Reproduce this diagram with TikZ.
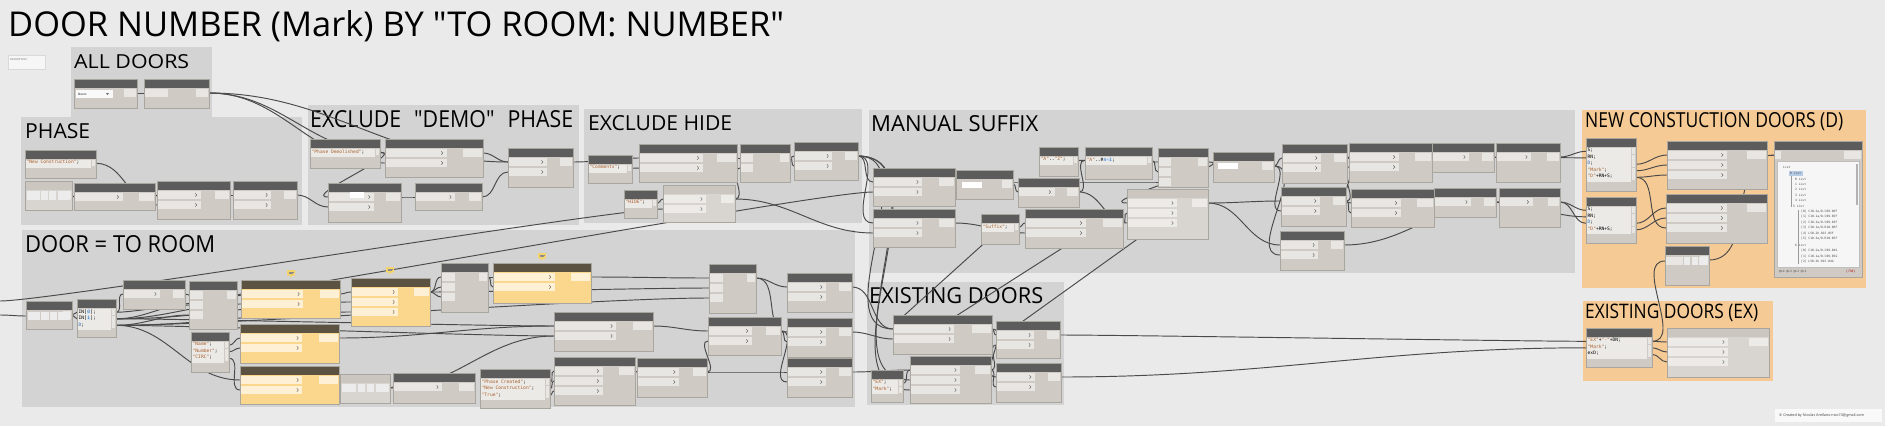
\documentclass[tikz,border=0pt]{standalone}
\usepackage{fontspec}
\setmainfont{Open Sans}[Ligatures=TeXOff]
\newfontfamily\cfont{DejaVu Sans Mono}[Ligatures=TeXOff]
\usepackage{graphicx}
\pgfdeclarelayer{grp}
\pgfdeclarelayer{wires}
\pgfsetlayers{grp,wires,main}
\definecolor{bgc}{HTML}{EAEAEA}
\definecolor{grpc}{HTML}{D3D3D3}
\definecolor{orgc}{HTML}{F6CA95}
\definecolor{bodyg}{HTML}{CFCBC4}
\definecolor{headg}{HTML}{5C5C5C}
\definecolor{rowg}{HTML}{E7E6E2}
\definecolor{bodyy}{HTML}{FBD78E}
\definecolor{heady}{HTML}{5C5242}
\definecolor{rowy}{HTML}{FEF0D4}
\definecolor{bodyl}{HTML}{D8D5D0}
\definecolor{headl}{HTML}{CBC7C0}
\definecolor{rowl}{HTML}{ECEBE8}
\definecolor{edgec}{HTML}{A9A59F}
\definecolor{wirec}{HTML}{4A4A4A}
\definecolor{strc}{HTML}{A85F2C}
\definecolor{varc}{HTML}{2F6DB5}
\definecolor{codebg}{HTML}{ECEAE6}
\definecolor{notec}{HTML}{F3D36A}
\newcommand{\cstr}[1]{\textcolor{strc}{#1}}
\newcommand{\cvar}[1]{\textcolor{varc}{#1}}
\newcommand{\cidx}[1]{{\setlength{\fboxsep}{0.3pt}\colorbox{varc!20}{\textcolor{varc}{#1}}}}
% node: name x1 y1 x2 y2 nin kind rowfrac
\newcommand{\dnode}[8]{%
  \fill[fill=body#7] (#2,#3) rectangle (#4,#5);
  \fill[fill=head#7] (#2,#3) rectangle (#4,#3+9);
  \pgfmathsetmacro{\rw}{#2+#8*(#4-#2)}%
  \pgfmathsetmacro{\ow}{#4-0.2*(#4-#2)}%
  \ifnum#6>0
  \foreach \k in {1,...,#6}{%
    \fill[fill=row#7] (#2+0.6,#3+10*\k) rectangle (\rw,#3+10*\k+8);
    \ifdim#8pt>0.4pt \draw[chev] (\rw-5.5,#3+10*\k+2.3) -- (\rw-4,#3+10*\k+4) -- (\rw-5.5,#3+10*\k+5.7);\fi
    \coordinate (#1-i\k) at (#2,#3+10*\k+4);
  }%
  \fi
  \fill[fill=row#7] (\ow,#3+10) rectangle (#4-0.6,#3+18);
  \coordinate (#1-o1) at (#4,#3+14);
  \draw[edgec,line width=0.4pt] (#2,#3) rectangle (#4,#5);
}
% code block: name x1 y1 x2 y2 nlines text
\newcommand{\dcode}[7]{%
  \fill[fill=bodyg] (#2,#3) rectangle (#4,#5);
  \fill[fill=headg] (#2,#3) rectangle (#4,#3+9);
  \fill[fill=codebg] (#2+0.6,#3+10) rectangle (#4-5,{#3+11+6.5*#6});
  \foreach \k in {1,...,#6}{%
    \fill[fill=rowg] (#4-4.4,{#3+10.2+6.5*(\k-1)}) rectangle (#4-0.6,{#3+16+6.5*(\k-1)});
    \coordinate (#1-o\k) at (#4,{#3+13.3+6.5*(\k-1)});
    \coordinate (#1-i\k) at (#2,{#3+13.3+6.5*(\k-1)});
  }%
  \node[codetext] (#1-t) at (#2+1.5,#3+10.3) {#7};
  \draw[edgec,line width=0.4pt] (#2,#3) rectangle (#4,#5);
}
\newcommand{\dgroup}[6]{\fill[fill=#6] (#2,#3) rectangle (#4,#5); \coordinate (#1) at (#2,#3);}
\newcommand{\dlabel}[6]{\node[anchor=base west,inner sep=0pt] (#1) at (#2,#3) {\resizebox{#4pt}{#5pt}{#6}};}
\newcommand{\dwire}[2]{\draw[wire] (#1) to[out=0,in=180] (#2);}
\newcommand{\dwirel}[3]{\draw[wire] (#1) to[out=0,in=180,looseness=#3] (#2);}
\newcommand{\wline}[4]{\node[wt] (#1) at (#2,#3) {#4};}
\newcommand{\dnote}[3]{%
  \fill[notec,rounded corners=0.6pt] (#2-4,#3-3) rectangle (#2+4,#3+2.5);
  \fill[notec] (#2-1.5,#3+2.4) -- (#2,#3+4.5) -- (#2+1.5,#3+2.4) -- cycle;
  \draw[black!45,line width=0.3pt] (#2-2.5,#3-1.2) -- (#2+2.5,#3-1.2) (#2-2.5,#3+0.6) -- (#2+1.5,#3+0.6);
  \coordinate (#1) at (#2,#3);
}
\newcommand{\dcell}[4]{\fill[white!85!gray] (#1,#2) rectangle (#3,#4);}
\begin{document}
\begin{tikzpicture}[x=1pt,y=-1pt,
  wire/.style={draw=wirec,line width=0.95pt},
  chev/.style={draw=black!70,line width=0.35pt},
  codetext/.style={anchor=north west,inner sep=0pt,align=left,font=\cfont\fontsize{4.6}{6.5}\selectfont},
  wt/.style={anchor=west,inner sep=0pt,font=\cfont\fontsize{3}{3.5}\selectfont,text=black!70}]
\useasboundingbox (0,0) rectangle (1897,426);
\begin{pgfonlayer}{grp}
\fill[bgc] (0,0) rectangle (1885,426);
\fill[white] (1885,0) rectangle (1897,426);
\dgroup{gAll}{71}{47}{212}{119}{grpc}
\dgroup{gPhase}{21}{117}{302}{225}{grpc}
\dgroup{gDemo}{308}{105}{579}{225}{grpc}
\dgroup{gHide}{584}{109}{862}{223}{grpc}
\dgroup{gSuffix}{869}{110}{1575}{273}{grpc}
\dgroup{gNew}{1582}{110}{1866}{288}{orgc}
\dgroup{gRoom}{22}{230}{855}{407}{grpc}
\dgroup{gExist}{867}{282}{1064}{405}{grpc}
\dgroup{gEx}{1583}{301}{1773}{381}{orgc}
\dlabel{title}{8}{36}{776}{26}{DOOR NUMBER (Mark) BY "TO ROOM: NUMBER"}
\dlabel{lAll}{74}{68}{115}{14}{ALL DOORS}
\dlabel{lPhase}{25}{138}{65}{15}{PHASE}
\dlabel{lDemo}{310}{127}{263}{17}{EXCLUDE\hspace{0.35em} "DEMO"\hspace{0.35em} PHASE}
\dlabel{lHide}{588}{130}{144}{15}{EXCLUDE HIDE}
\dlabel{lSuffix}{871}{131}{167}{16}{MANUAL SUFFIX}
\dlabel{lNew}{1585}{127}{258}{15}{NEW CONSTUCTION DOORS (D)}
\dlabel{lRoom}{25}{252}{190}{17}{DOOR = TO ROOM}
\dlabel{lExist}{869}{303}{174}{16}{EXISTING DOORS}
\dlabel{lEx}{1585}{318}{173}{14.5}{EXISTING DOORS (EX)}
\fill[white!55!bgc] (8,55) rectangle (45,69);
\draw[black!15,line width=0.3pt] (8,55) rectangle (45,69);
\node[anchor=north west,inner sep=0pt,font=\fontsize{2.6}{3}\selectfont,text=black!60] (desc) at (10,58) {DESCRIPTION:};
\fill[white!70!bgc] (1775,409) rectangle (1882,422);
\node[anchor=west,inner sep=0pt,font=\fontsize{3.7}{4}\selectfont,text=black!75] (credit) at (1779,415.5) {© Created by Nicolas Arellano nico74@gmail.com};
\end{pgfonlayer}
% ---------- nodes ----------
\dnode{A1}{74}{79}{137}{108}{0}{g}{0.5}
\fill[white!95!gray] (76,90) rectangle (113,98);
\node[anchor=west,inner sep=0pt,font=\fontsize{3}{3.5}\selectfont] (a1t) at (78,94) {Doors};
\fill[black!60] (106,93) -- (109,93) -- (107.5,95) -- cycle;
\dnode{A2}{144}{79}{209}{108}{1}{g}{0.37}
\dcode{Pc}{25}{150}{96}{178}{1}{\cstr{"New Construction"};}
\dnode{Pl}{25}{181}{72}{210}{0}{l}{0.5}
\dcell{27}{191}{40}{200}\dcell{41}{191}{48}{200}\dcell{49}{191}{56}{200}\dcell{58}{191}{70}{200}
\dnode{P1}{74}{183}{155}{210}{1}{g}{0.6}
\dnode{P2}{157}{181}{230}{219}{2}{g}{0.6}
\dnode{P3}{233}{181}{297}{219}{2}{g}{0.6}
\dcode{Dc}{310}{139}{380}{168}{1}{\cstr{"Phase Demolished"};}
\dnode{D1}{385}{139}{483}{177}{2}{g}{0.63}
\dnode{D2}{328}{183}{401}{222}{2}{g}{0.63}
\fill[white] (350,192) rectangle (364,198);
\dnode{D3}{415}{183}{482}{210}{1}{g}{0.6}
\dnode{D4}{508}{148}{573}{187}{2}{g}{0.6}
\dcode{Hc}{588}{155}{632}{183}{1}{\cstr{"Comments"};}
\dnode{H1}{639}{144}{737}{182}{2}{g}{0.65}
\dnode{H2}{740}{144}{790}{182}{2}{g}{0.25}
\dnode{H3}{794}{142}{858}{180}{2}{g}{0.6}
\dcode{Hh}{624}{190}{657}{218}{1}{\cstr{"HIDE"};}
\dnode{H4}{663}{185}{735}{222}{2}{l}{0.6}
\dnode{M1}{873}{168}{955}{206}{2}{g}{0.6}
\dnode{M2}{873}{209}{955}{247}{2}{g}{0.6}
\dnode{M3}{956}{170}{1013}{199}{0}{g}{0.5}
\fill[white] (962,182) rectangle (982,188);
\dnode{M4}{1018}{178}{1079}{207}{1}{g}{0.6}
\dcode{Mc1}{1039}{147}{1078}{176}{1}{\cstr{"A"}..\cstr{"Z"};}
\dcode{Mc2}{1085}{147}{1152}{179}{1}{\cstr{"A"}..\#\cidx{n-1};}
\dcode{Ms}{981}{214}{1019}{244}{1}{\cstr{"Suffix"};}
\dnode{M5}{1025}{209}{1123}{248}{2}{g}{0.62}
\dnode{M6}{1158}{148}{1208}{187}{3}{g}{0.25}
\dnode{M7}{1127}{189}{1208}{239}{3}{l}{0.62}
\dnode{M8}{1213}{152}{1274}{182}{0}{g}{0.5}
\fill[white] (1218,163) rectangle (1238,169);
\dnode{M9}{1282}{144}{1347}{183}{2}{g}{0.6}
\dnode{M10}{1349}{143}{1432}{182}{2}{g}{0.6}
\dnode{M11}{1432}{143}{1494}{172}{1}{g}{0.6}
\dnode{M12}{1496}{143}{1560}{182}{1}{g}{0.55}
\dnode{M13}{1281}{187}{1346}{226}{2}{g}{0.6}
\dnode{M14}{1351}{189}{1434}{227}{2}{g}{0.6}
\dnode{M15}{1434}{188}{1496}{217}{1}{g}{0.6}
\dnode{M16}{1499}{188}{1560}{227}{1}{g}{0.55}
\dnode{M17}{1280}{231}{1344}{270}{2}{g}{0.6}
\dcode{N1}{1586}{138}{1636}{191}{5}{S;\\RN;\\\cvar{D};\\\cstr{"Mark"};\\\cstr{"D"}+RN+S;}
\dcode{N2}{1586}{197}{1636}{243}{4}{S;\\RN;\\\cvar{D};\\\cstr{"D"}+RN+S;}
\dnode{N3}{1667}{141}{1767}{189}{3}{g}{0.6}
\dnode{N4}{1666}{194}{1767}{243}{3}{g}{0.6}
\dnode{N5}{1774}{141}{1862}{277}{1}{g}{0.08}
\fill[white!93!gray] (1777,161) rectangle (1859,267);
\draw[black!25,line width=0.3pt] (1777,161) rectangle (1859,267);
\fill[black!30] (1855.5,164) rectangle (1857.5,205);
\fill[varc!35] (1789,170.5) rectangle (1803,175.5);
\draw[black!40,line width=0.3pt] (1791,176) -- (1791,207) (1798,210) -- (1798,264);
\wline{w1}{1783}{167}{List}
\wline{w2}{1790}{173}{0 List}
\wline{w3}{1795}{179}{0 List}
\wline{w4}{1795}{184}{1 List}
\wline{w5}{1795}{189.5}{2 List}
\wline{w6}{1795}{195}{3 List}
\wline{w7}{1795}{200.5}{4 List}
\wline{w8}{1793}{206}{5 List}
\wline{w9}{1801}{211.5}{[0] C10.2a/D.C09.06F}
\wline{w10}{1801}{217}{[1] C10.1a/D.C09.05F}
\wline{w11}{1801}{222.5}{[2] C10.3a/D.C09.03F}
\wline{w12}{1801}{228}{[3] C10.1a/D.R10.06F}
\wline{w13}{1801}{233.5}{[4] L50.2b.R15.05F}
\wline{w14}{1801}{239}{[5] C10.3a/D.R10.05F}
\wline{w15}{1795}{245.5}{6 List}
\wline{w16}{1801}{251}{[0] C10.2a/D.C09.04G}
\wline{w17}{1801}{256.5}{[1] C10.1a/D.C09.05G}
\wline{w18}{1801}{262}{[2] L50.2b.R15.04G}
\wline{w19}{1779}{271.5}{@L4 @L3 @L2 @L1}
\node[wt,text=red!70!black] (w20) at (1846,271.5) {\{738\}};
\dnode{N6}{1665}{246}{1709}{285}{0}{g}{0.5}
\fill[rowg] (1666,257) rectangle (1683,265);
\dcell{1684}{257}{1690}{265}\dcell{1692}{257}{1698}{265}\dcell{1699}{257}{1708}{265}
\coordinate (N6-i1) at (1665,261);
\dcode{E1}{1586}{328}{1652}{367}{3}{\cstr{"EX"}+\cstr{"-"}+DN;\\\cstr{"Mark"};\\exD;}
\dnode{E2}{1667}{328}{1769}{377}{3}{l}{0.6}
\dnode{X1}{893}{315}{992}{354}{2}{g}{0.62}
\dnode{X2}{996}{321}{1060}{358}{2}{g}{0.6}
\dcode{X3}{871}{370}{903}{402}{2}{\cstr{"EX"};\\\cstr{"Mark"};}
\dnode{X4}{910}{356}{991}{403}{3}{g}{0.62}
\dnode{X5}{996}{363}{1061}{402}{2}{g}{0.6}
\dnode{R1}{26}{301}{72}{329}{0}{g}{0.5}
\dcell{28}{312}{40}{320}\dcell{41}{312}{49}{320}\dcell{50}{312}{57}{320}\dcell{58}{312}{70}{320}
\coordinate (R1-i1) at (26,316);
\dcode{R2}{77}{299}{116}{337}{3}{IN[\cidx{0}];\\IN[\cidx{1}];\\\cvar{D};}
\dnode{R3}{123}{280}{185}{309}{1}{g}{0.6}
\dnode{R4}{189}{281}{237}{329}{3}{g}{0.3}
\dnote{nt1}{291}{273}
\dnode{Y1}{241}{280}{340}{318}{2}{y}{0.63}
\dnote{nt2}{390}{270}
\dnode{Y2}{351}{278}{430}{326}{3}{y}{0.6}
\dnode{R5}{441}{263}{488}{312}{3}{g}{0.3}
\dnote{nt3}{542}{256}
\dnode{Y3}{493}{263}{591}{303}{2}{y}{0.63}
\dcode{R6}{191}{332}{229}{372}{3}{\cstr{"Name"};\\\cstr{"Number"};\\\cstr{"CIRC"};}
\dnode{Y4}{240}{324}{339}{363}{2}{y}{0.63}
\dnode{Y5}{240}{366}{339}{404}{2}{y}{0.63}
\dnode{R7}{340}{374}{390}{403}{0}{l}{0.5}
\dcell{342}{384}{356}{392}\dcell{358}{384}{365}{392}\dcell{367}{384}{374}{392}\dcell{376}{384}{388}{392}
\coordinate (R7-i1) at (340,388);
\dnode{R8}{393}{373}{475}{403}{1}{g}{0.6}
\dcode{R9}{480}{369}{550}{408}{3}{\cstr{"Phase Created"};\\\cstr{"New Construction"};\\\cstr{"True"};}
\dnode{R10}{709}{264}{756}{313}{3}{g}{0.3}
\dnode{R11}{787}{273}{852}{312}{2}{g}{0.6}
\dnode{R12}{554}{312}{653}{351}{2}{g}{0.63}
\dnode{R13}{708}{317}{781}{355}{2}{g}{0.6}
\dnode{R14}{787}{318}{852}{357}{2}{g}{0.6}
\dnode{R15}{554}{357}{635}{405}{3}{g}{0.6}
\dnode{R16}{637}{358}{707}{397}{2}{g}{0.6}
\dnode{R17}{787}{358}{852}{397}{2}{g}{0.6}
\coordinate (offA) at (0,301);
\coordinate (offB) at (0,315);
\coordinate (dA1) at (898,321); \coordinate (dA2) at (990,238);
\coordinate (dB1) at (945,323); \coordinate (dB2) at (1075,240);
\coordinate (dC1) at (1012,329); \coordinate (dC2) at (1150,230);
% ---------- wires ----------
\begin{pgfonlayer}{wires}
\dwire{A1-o1}{A2-i1}
\dwire{A2-o1}{D1-i1}
\dwire{A2-o1}{D1-i2}
\dwire{A2-o1}{D4-i1}
\dwire{Pl-o1}{P1-i1}
\dwire{Pc-o1}{P2-i2}
\dwire{P1-o1}{P2-i1}
\dwire{P2-o1}{P3-i1}
\dwire{P3-o1}{D2-i2}
\dwire{Dc-o1}{D2-i1}
\dwire{D1-o1}{D4-i1}
\dwire{D2-o1}{D3-i1}
\dwire{D3-o1}{D4-i2}
\dwire{D4-o1}{H1-i1}
\dwire{Hc-o1}{H1-i2}
\dwire{H1-o1}{H2-i1}
\dwire{H4-o1}{H2-i2}
\dwire{H2-o1}{H3-i1}
\dwire{H2-o1}{H3-i2}
\dwire{Hh-o1}{H4-i1}
\dwirel{offA}{H4-i2}{0.2}
\dwire{H3-o1}{M1-i1}
\dwire{H3-o1}{M2-i1}
\dwire{H4-o1}{M2-i2}
\dwirel{R2-o1}{M1-i2}{0.2}
\dwire{H3-o1}{X1-i1}
\dwire{H3-o1}{X4-i2}
\dwire{H3-o1}{X4-i3}
\dwire{M3-o1}{M4-i1}
\dwire{M4-o1}{Mc2-i1}
\dwire{Mc1-o1}{M6-i1}
\dwire{Mc2-o1}{M6-i2}
\dwire{Ms-o1}{M5-i1}
\dwire{M2-o1}{M5-i2}
\dwire{M1-o1}{M6-i3}
\dwire{M5-o1}{M7-i2}
\dwire{M6-o1}{M7-i1}
\dwire{M4-o1}{M7-i3}
\dwire{M7-o1}{M13-i1}
\dwire{M7-o1}{M17-i1}
\dwire{M8-o1}{M9-i1}
\dwire{M8-o1}{M13-i2}
\dwire{M8-o1}{M17-i2}
\dwire{M9-o1}{M10-i1}
\dwire{M13-o1}{M10-i2}
\dwire{M9-o1}{M14-i1}
\dwire{M13-o1}{M14-i2}
\dwire{M10-o1}{M11-i1}
\dwire{M11-o1}{M12-i1}
\dwire{M14-o1}{M15-i1}
\dwire{M15-o1}{M16-i1}
\dwire{M17-o1}{M16-i1}
\dwire{M12-o1}{N1-i1}
\dwire{M11-o1}{N1-i2}
\dwire{M16-o1}{N2-i1}
\dwire{M15-o1}{N2-i2}
\dwire{M16-o1}{N2-i3}
\dwire{N1-o3}{N3-i1}
\dwire{N1-o4}{N3-i2}
\dwire{N1-o5}{N3-i3}
\dwire{N1-o5}{N4-i3}
\dwire{N2-o3}{N4-i1}
\dwire{N2-o4}{N4-i2}
\dwire{N3-o1}{N5-i1}
\dwire{N6-o1}{N5-i1}
\dwire{E1-o1}{N6-i1}
\dwirel{X2-o1}{E1-i1}{0.3}
\dwire{X5-o1}{E1-i2}
\dwire{E1-o1}{E2-i1}
\dwire{E1-o2}{E2-i2}
\dwire{E1-o3}{E2-i3}
\dwire{X1-o1}{X2-i1}
\dwire{X4-o1}{X2-i2}
\dwire{X1-o1}{X5-i1}
\dwire{X4-o1}{X5-i2}
\dwire{X3-o1}{X4-i1}
\dwire{R11-o1}{X1-i1}
\dwire{R14-o1}{X1-i2}
\dwire{R17-o1}{X4-i1}
\draw[wire] (dA1) -- (dA2);
\draw[wire] (dB1) -- (dB2);
\draw[wire] (dC1) -- (dC2);
\dwire{offB}{R1-i1}
\dwire{R1-o1}{R2-i1}
\dwire{R1-o1}{R2-i2}
\dwire{R2-o1}{R3-i1}
\dwire{R3-o1}{R4-i1}
\dwire{R2-o2}{R4-i2}
\dwire{R2-o3}{R4-i3}
\dwire{R4-o1}{Y1-i1}
\dwire{R2-o2}{Y1-i2}
\dwire{Y1-o1}{Y2-i1}
\dwire{R2-o2}{Y2-i2}
\dwire{R2-o3}{Y2-i3}
\dwire{Y2-o1}{R5-i1}
\dwire{Y2-o1}{R5-i2}
\dwire{Y2-o1}{R5-i3}
\dwire{R5-o1}{Y3-i1}
\dwire{R5-o1}{Y3-i2}
\dwirel{R2-o3}{R12-i2}{0.4}
\dwirel{R2-o2}{R12-i1}{0.4}
\dwire{R6-o1}{Y4-i1}
\dwire{R6-o2}{Y4-i2}
\dwire{R6-o3}{Y5-i2}
\dwire{R2-o3}{Y5-i1}
\dwire{Y4-o1}{R12-i1}
\dwire{Y5-o1}{R7-i1}
\dwire{R7-o1}{R8-i1}
\dwire{R7-o1}{R12-i2}
\dwire{R9-o1}{R15-i1}
\dwire{R9-o2}{R15-i2}
\dwire{R9-o3}{R15-i3}
\dwire{R15-o1}{R16-i1}
\dwire{R16-o1}{R13-i2}
\dwire{R12-o1}{R13-i1}
\dwire{Y3-o1}{R10-i1}
\dwirel{Y2-o1}{R10-i2}{0.5}
\dwirel{R2-o3}{R10-i3}{0.5}
\dwire{R10-o1}{R11-i1}
\dwire{R10-o1}{R14-i1}
\dwire{R13-o1}{R14-i2}
\dwire{R13-o1}{R17-i2}
\dwire{R16-o1}{R17-i1}
\end{pgfonlayer}
\end{tikzpicture}
\end{document}
